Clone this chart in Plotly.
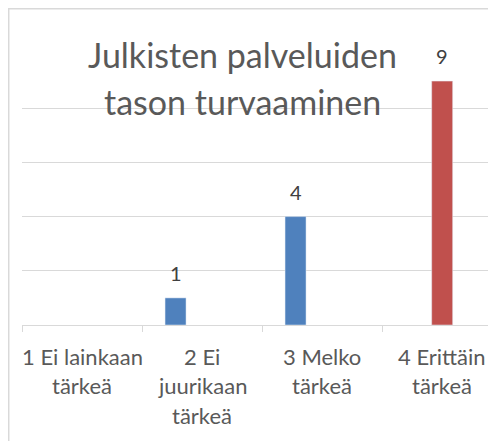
import plotly.graph_objects as go

# data
categories = ['1 Ei lainkaan<br>tärkeä', '2 Ei<br>juurikaan<br>tärkeä',
              '3 Melko<br>tärkeä', '4 Erittäin<br>tärkeä']
blue_values = [None, 1, 4, None]
red_values = [None, None, None, 9]
title_lines = ['Julkisten palveluiden', 'tason turvaaminen']

FONT = 'Lato'
GREY = '#595959'
GRID = '#d9d9d9'

fig = go.Figure()
fig.add_trace(go.Bar(x=categories, y=blue_values, marker={'color': '#4f81bd'},
                     width=0.175, offset=-0.308, name='blue'))
fig.add_trace(go.Bar(x=categories, y=red_values, marker={'color': '#c0504d'},
                     width=0.175, offset=-0.086, name='red'))

# data labels above bars
for vals, shift in ((blue_values, -26.5), (red_values, 0)):
    for cat, v in zip(categories, vals):
        if v is None:
            continue
        fig.add_annotation(x=cat, y=v, text=str(v), showarrow=False,
                           xshift=shift, yshift=25, yanchor='middle',
                           font={'family': FONT, 'size': 20, 'color': '#404040'})

# category labels, one annotation per line for Excel-like line spacing
for cat in categories:
    for i, line in enumerate(cat.split('<br>')):
        fig.add_annotation(x=cat, y=0, yref='paper', text=line, showarrow=False,
                           yanchor='middle', yshift=-31 - 29.5 * i,
                           font={'family': FONT, 'size': 22, 'color': GREY})

# title drawn over the plot area
for i, line in enumerate(title_lines):
    fig.add_annotation(x=0.465, xref='paper', y=1.0 - 0.177 * i, yref='paper',
                       text=line, showarrow=False, yanchor='middle',
                       font={'family': FONT, 'size': 34, 'color': GREY})

# chart border (right and bottom edges fall outside the picture)
fig.add_shape(type='rect', xref='paper', yref='paper',
              x0=-0.028, x1=2, y0=-2, y1=1.167,
              line={'color': GRID, 'width': 1.5}, layer='below')

fig.update_layout(width=488, height=433, showlegend=False,
                  margin={'l': 14, 'r': 0, 't': 46, 'b': 116},
                  plot_bgcolor='white', paper_bgcolor='white',
                  barmode='overlay',
                  font={'family': FONT, 'color': GREY})
fig.update_xaxes(type='category', range=[-0.5, 3.45], showticklabels=False,
                 showline=True, linecolor=GRID, linewidth=1,
                 ticks='outside', tickson='boundaries', ticklen=6,
                 tickcolor=GRID, showgrid=False)
fig.update_yaxes(range=[0, 10], dtick=2, showticklabels=False,
                 showgrid=True, gridcolor=GRID, gridwidth=1,
                 zeroline=False)

fig.write_html("out.html")
